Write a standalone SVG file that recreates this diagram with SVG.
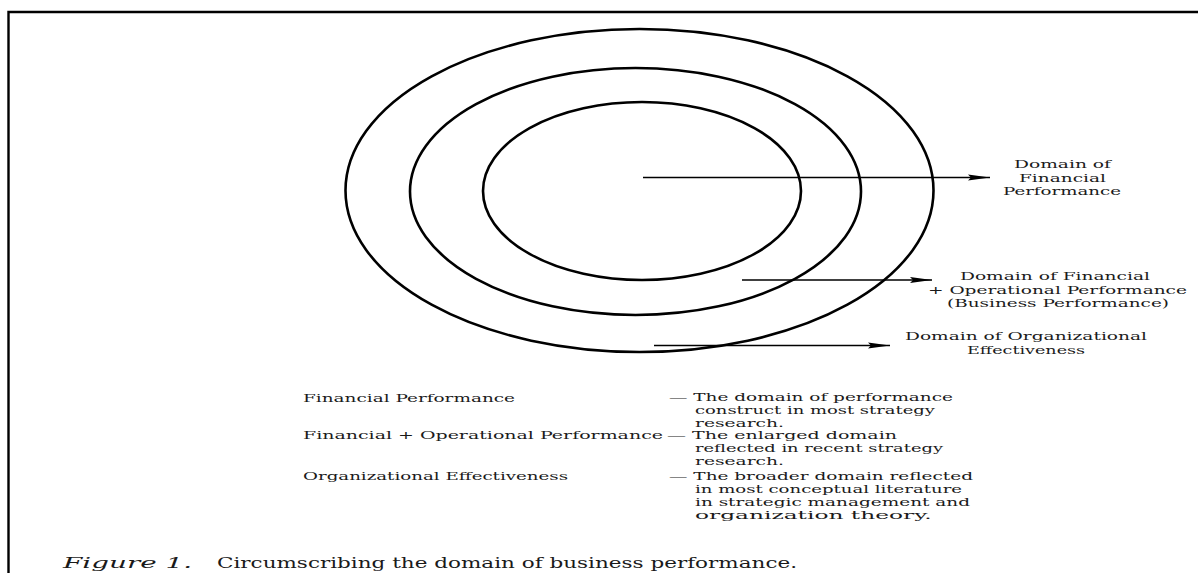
<svg xmlns="http://www.w3.org/2000/svg" width="1198" height="573" viewBox="0 0 1198 573">
<style>
.ring{fill:none;stroke:#000;stroke-width:2.6}
.frame{fill:none;stroke:#000;stroke-width:2.4}
.conn{stroke:#000;stroke-width:1.6;fill:none}
text{font-family:"DejaVu Serif","Liberation Serif",serif;font-size:11px;fill:#1a1a1a}
.cap{font-size:14.5px}
.capi{font-size:14.5px;font-style:italic}
</style>
<defs>
<marker id="ah" markerUnits="userSpaceOnUse" markerWidth="24" markerHeight="10" refX="22" refY="4" orient="auto">
<path d="M0,1 L22,4 L0,7 L3,4 Z" fill="#000"/>
</marker>
</defs>
<rect width="1198" height="573" fill="#fff"/>
<path class="frame" d="M8.5,573 L8.5,12 L1198,12"/>
<g id="outer"><ellipse class="ring" cx="639.5" cy="190.5" rx="294" ry="161.5"/></g>
<g id="middle"><ellipse class="ring" cx="635.5" cy="191.5" rx="225.5" ry="123.5"/></g>
<g id="inner"><ellipse class="ring" cx="642" cy="191" rx="159" ry="89"/></g>
<g id="connectors">
<line class="conn" x1="643" y1="177.5" x2="990" y2="177.5" marker-end="url(#ah)"/>
<line class="conn" x1="742" y1="280" x2="932" y2="280" marker-end="url(#ah)"/>
<line class="conn" x1="654" y1="345.5" x2="890" y2="345.5" marker-end="url(#ah)"/>
</g>
<g id="label-financial">
<text x="1014" y="168" textLength="97" lengthAdjust="spacingAndGlyphs">Domain of</text>
<text x="1019" y="182" textLength="87" lengthAdjust="spacingAndGlyphs">Financial</text>
<text x="1003" y="195" textLength="118" lengthAdjust="spacingAndGlyphs">Performance</text>
</g>
<g id="label-business">
<text x="960" y="280" textLength="190" lengthAdjust="spacingAndGlyphs">Domain of Financial</text>
<text x="928" y="294" textLength="259" lengthAdjust="spacingAndGlyphs">+ Operational Performance</text>
<text x="947" y="307" textLength="222" lengthAdjust="spacingAndGlyphs">(Business Performance)</text>
</g>
<g id="label-org">
<text x="905" y="340" textLength="242" lengthAdjust="spacingAndGlyphs">Domain of Organizational</text>
<text x="967" y="354" textLength="118" lengthAdjust="spacingAndGlyphs">Effectiveness</text>
</g>
<g id="legend">
<text x="303" y="402" textLength="212" lengthAdjust="spacingAndGlyphs">Financial Performance</text>
<text x="669" y="401" textLength="284" lengthAdjust="spacingAndGlyphs">— The domain of performance</text>
<text x="695" y="414" textLength="240" lengthAdjust="spacingAndGlyphs">construct in most strategy</text>
<text x="695" y="427" textLength="89" lengthAdjust="spacingAndGlyphs">research.</text>
<text x="303" y="439" textLength="360" lengthAdjust="spacingAndGlyphs">Financial + Operational Performance</text>
<text x="667" y="439" textLength="230" lengthAdjust="spacingAndGlyphs">— The enlarged domain</text>
<text x="695" y="452" textLength="248" lengthAdjust="spacingAndGlyphs">reflected in recent strategy</text>
<text x="695" y="465" textLength="89" lengthAdjust="spacingAndGlyphs">research.</text>
<text x="303" y="480" textLength="265" lengthAdjust="spacingAndGlyphs">Organizational Effectiveness</text>
<text x="669" y="480" textLength="304" lengthAdjust="spacingAndGlyphs">— The broader domain reflected</text>
<text x="695" y="493" textLength="267" lengthAdjust="spacingAndGlyphs">in most conceptual literature</text>
<text x="695" y="506" textLength="275" lengthAdjust="spacingAndGlyphs">in strategic management and</text>
<text transform="translate(695,519) scale(2.12,1)" x="0" y="0">organization theory.</text>
</g>
<g id="caption">
<text class="capi" x="63" y="568" textLength="129" lengthAdjust="spacingAndGlyphs">Figure 1.</text>
<text class="cap" x="217" y="568" textLength="580" lengthAdjust="spacingAndGlyphs">Circumscribing the domain of business performance.</text>
</g>
</svg>
